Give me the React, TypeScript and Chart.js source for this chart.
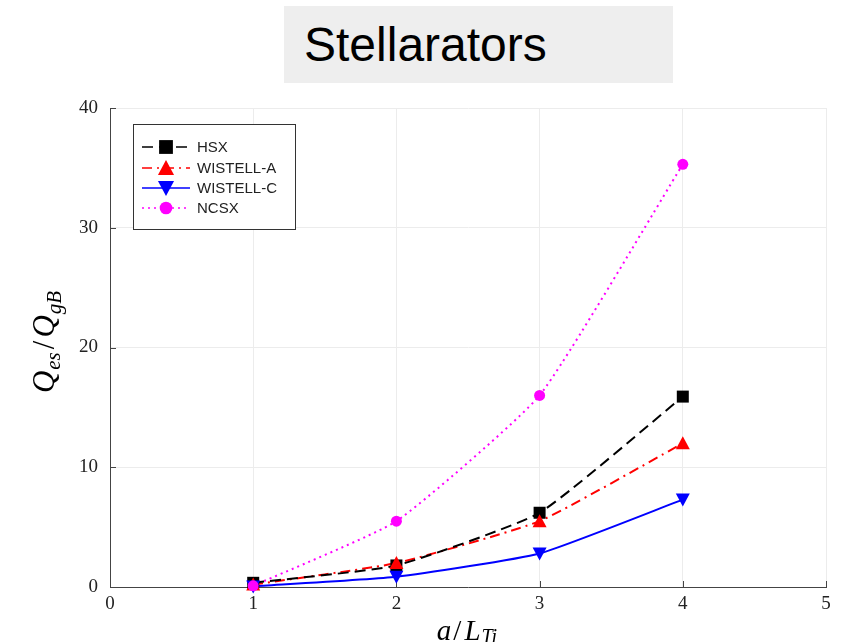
import React, { useEffect, useRef } from "react";
import { Chart, registerables } from "chart.js";

Chart.register(...registerables);

const xValues = [1, 2, 3, 4];
const hsx = [0.35, 1.8, 6.2, 15.9];
const wistellA = [0.2, 2.0, 5.5, 12.0];
const wistellC = [0.05, 0.85, 2.8, 7.3];
const ncsx = [0.1, 5.5, 16.0, 35.3];
const seriesNames = ["HSX", "WISTELL-A", "WISTELL-C", "NCSX"];
const xTicks = [0, 1, 2, 3, 4, 5];
const yTicks = [0, 10, 20, 30, 40];

const SERIF = "'Liberation Serif', 'DejaVu Serif', serif";
const SANS = "'Liberation Sans', Arial, sans-serif";

function drawMarker(ctx: CanvasRenderingContext2D, style: string, x: number, y: number, color: string, s = 1) {
  ctx.save();
  ctx.fillStyle = color;
  ctx.beginPath();
  if (style === "rect") {
    ctx.rect(x - 6 * s, y - 6 * s, 12 * s, 12 * s);
  } else if (style === "triUp") {
    ctx.moveTo(x, y - 7 * s);
    ctx.lineTo(x + 7 * s, y + 6 * s);
    ctx.lineTo(x - 7 * s, y + 6 * s);
    ctx.closePath();
  } else if (style === "triDown") {
    ctx.moveTo(x, y + 7 * s);
    ctx.lineTo(x + 7 * s, y - 6 * s);
    ctx.lineTo(x - 7 * s, y - 6 * s);
    ctx.closePath();
  } else {
    ctx.arc(x, y, 5.5 * s, 0, Math.PI * 2);
  }
  ctx.fill();
  ctx.restore();
}

const styles = [
  { color: "#000000", dash: [11, 6], marker: "rect" },
  { color: "#ff0000", dash: [10, 5, 2, 5], marker: "triUp" },
  { color: "#0000ff", dash: [], marker: "triDown" },
  { color: "#ff00ff", dash: [2, 4], marker: "circle" },
];

const decorPlugin = {
  id: "decor",
  afterDraw(chart: any) {
    const ctx: CanvasRenderingContext2D = chart.ctx;
    const xs = chart.scales.x;
    const ys = chart.scales.y;
    const area = chart.chartArea;
    ctx.save();
    // inward ticks
    ctx.strokeStyle = "#444";
    ctx.lineWidth = 1;
    ctx.beginPath();
    xTicks.forEach((t) => {
      const px = Math.round(xs.getPixelForValue(t)) + 0.5;
      ctx.moveTo(px, area.bottom);
      ctx.lineTo(px, area.bottom - 6);
    });
    yTicks.forEach((t) => {
      const py = Math.round(ys.getPixelForValue(t)) + 0.5;
      ctx.moveTo(area.left, py);
      ctx.lineTo(area.left + 6, py);
    });
    ctx.stroke();

    // markers
    const all = [hsx, wistellA, wistellC, ncsx];
    all.forEach((arr, i) => {
      arr.forEach((v, j) => {
        drawMarker(ctx, styles[i].marker, xs.getPixelForValue(xValues[j]), ys.getPixelForValue(v), styles[i].color);
      });
    });

    // legend
    const lx = 133, ly = 124, lw = 162, lh = 105;
    ctx.fillStyle = "#ffffff";
    ctx.fillRect(lx, ly, lw, lh);
    ctx.strokeStyle = "#333";
    ctx.lineWidth = 1;
    ctx.strokeRect(lx + 0.5, ly + 0.5, lw, lh);
    const rows = [147, 168, 188, 208];
    seriesNames.forEach((name, i) => {
      const y = rows[i];
      ctx.strokeStyle = styles[i].color;
      ctx.lineWidth = 1.5;
      ctx.setLineDash(styles[i].dash);
      ctx.beginPath();
      ctx.moveTo(142, y);
      ctx.lineTo(190, y);
      ctx.stroke();
      ctx.setLineDash([]);
      drawMarker(ctx, styles[i].marker, 166, y, styles[i].color, 1.15);
      ctx.fillStyle = "#222";
      ctx.font = `15px ${SANS}`;
      ctx.textBaseline = "middle";
      ctx.textAlign = "left";
      ctx.fillText(name, 197, y + 1);
    });

    // y axis title
    ctx.save();
    ctx.translate(54, 342);
    ctx.rotate(-Math.PI / 2);
    const big = `italic 31px ${SERIF}`;
    const small = `italic 21px ${SERIF}`;
    const partsY = [
      { t: "Q", f: big, dy: 0, gap: 1 },
      { t: "es", f: small, dy: 6, gap: 3 },
      { t: "/", f: `31px ${SERIF}`, dy: 0, gap: 3 },
      { t: "Q", f: big, dy: 0, gap: 1 },
      { t: "gB", f: small, dy: 7, gap: 0 },
    ];
    let total = 0;
    partsY.forEach((p) => { ctx.font = p.f; total += ctx.measureText(p.t).width + p.gap; });
    let cx = -total / 2;
    ctx.fillStyle = "#000";
    ctx.textBaseline = "alphabetic";
    ctx.textAlign = "left";
    partsY.forEach((p) => {
      ctx.font = p.f;
      ctx.fillText(p.t, cx, p.dy);
      cx += ctx.measureText(p.t).width + p.gap;
    });
    ctx.restore();

    // x axis title
    const partsX = [
      { t: "a", f: `italic 29px ${SERIF}`, dy: 0, gap: 2 },
      { t: "/", f: `29px ${SERIF}`, dy: 0, gap: 3 },
      { t: "L", f: `italic 29px ${SERIF}`, dy: 0, gap: 1 },
      { t: "Ti", f: `italic 20px ${SERIF}`, dy: 6, gap: 0 },
    ];
    total = 0;
    partsX.forEach((p) => { ctx.font = p.f; total += ctx.measureText(p.t).width + p.gap; });
    cx = 467 - total / 2;
    ctx.fillStyle = "#000";
    partsX.forEach((p) => {
      ctx.font = p.f;
      ctx.fillText(p.t, cx, 632 + p.dy);
      cx += ctx.measureText(p.t).width + p.gap;
    });
    ctx.restore();
  },
};

export default function App() {
  const ref = useRef<HTMLCanvasElement | null>(null);
  useEffect(() => {
    if (!ref.current) return;
    const mk = (i: number, data: number[]) => ({
      label: seriesNames[i],
      data: data.map((v, j) => ({ x: xValues[j], y: v })),
      borderColor: styles[i].color,
      backgroundColor: styles[i].color,
      borderDash: styles[i].dash,
      borderWidth: 2,
      pointRadius: 0,
      tension: 0.15,
      clip: false as any,
    });
    const chart = new Chart(ref.current, {
      type: "line",
      data: {
        datasets: [mk(0, hsx), mk(1, wistellA), mk(2, wistellC), mk(3, ncsx)],
      },
      options: {
        animation: false,
        responsive: false,
        layout: { padding: { top: 108, right: 30, left: 0, bottom: 0 } },
        plugins: {
          legend: { display: false },
          tooltip: { enabled: false },
          title: { display: false },
        },
        scales: {
          x: {
            type: "linear",
            min: 0,
            max: 5,
            afterFit: (s: any) => { s.height = 55; },
            afterBuildTicks: (s: any) => { s.ticks = xTicks.map((v) => ({ value: v })); },
            grid: { color: "#ececec", drawTicks: false, lineWidth: 1 },
            border: { display: true, color: "#444", width: 1 },
            ticks: { color: "#222", font: { family: SERIF, size: 19 }, padding: 6 },
          },
          y: {
            type: "linear",
            min: 0,
            max: 40,
            afterFit: (s: any) => { s.width = 110; },
            afterBuildTicks: (s: any) => { s.ticks = yTicks.map((v) => ({ value: v })); },
            grid: { color: "#ececec", drawTicks: false, lineWidth: 1 },
            border: { display: true, color: "#444", width: 1 },
            ticks: { color: "#222", font: { family: SERIF, size: 19 }, padding: 12 },
          },
        },
      },
      plugins: [decorPlugin],
    });
    return () => chart.destroy();
  }, []);
  return (
    <div style={{ position: "absolute", left: 0, top: 0, width: 856, height: 642, background: "#fff" }}>
      <div
        style={{
          position: "absolute",
          left: 284,
          top: 6,
          width: 389,
          height: 77,
          background: "#eeeeee",
          fontFamily: SANS,
          fontSize: 48,
          color: "#000",
          lineHeight: "77px",
          paddingLeft: 20,
          boxSizing: "border-box",
        }}
      >
        Stellarators
      </div>
      <canvas ref={ref} width={856} height={642} style={{ position: "absolute", left: 0, top: 0 }} />
    </div>
  );
}
